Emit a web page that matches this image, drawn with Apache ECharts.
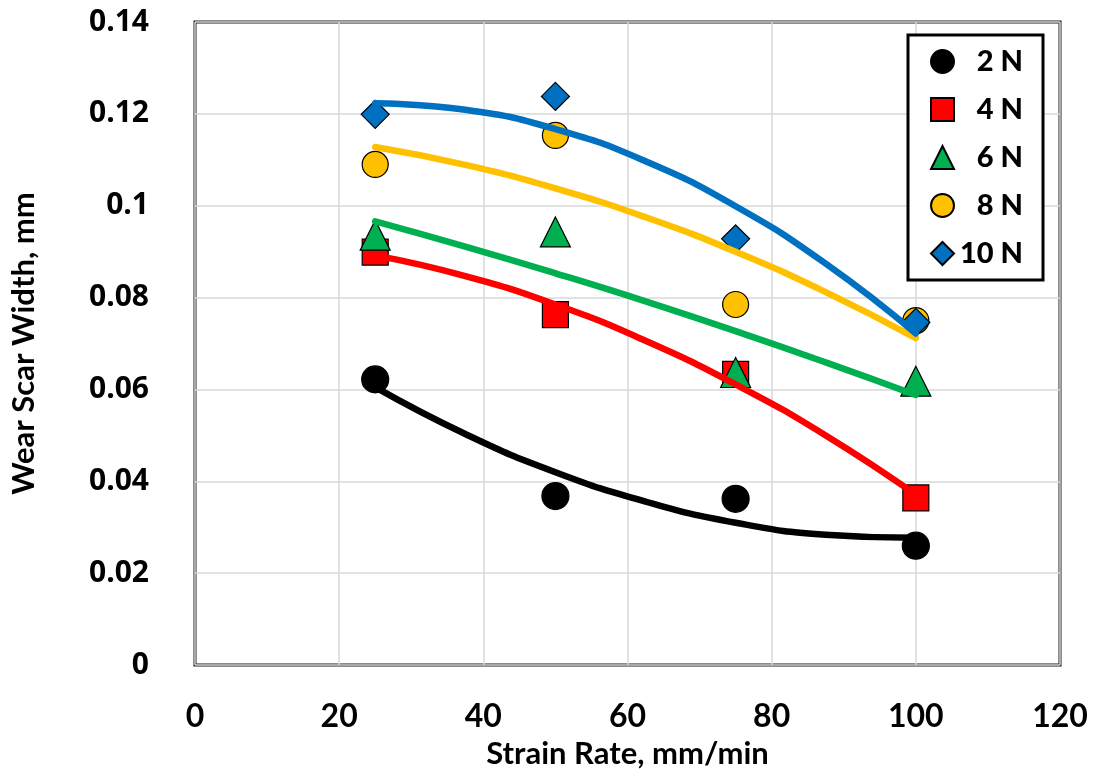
<!DOCTYPE html>
<html>
<head>
<meta charset="utf-8">
<script src="https://cdn.jsdelivr.net/npm/echarts@6/dist/echarts.min.js"></script>
<style>html,body{margin:0;padding:0;background:#fff}#c{width:1101px;height:774px}</style>
</head>
<body>
<div id="c"></div>
<script>
// Data
const strainRate = [25, 50, 75, 100];
const load2N  = [0.0622, 0.0368, 0.0362, 0.0260];
const load4N  = [0.0899, 0.0763, 0.0633, 0.0364];
const load6N  = [0.0936, 0.0943, 0.0637, 0.0618];
const load8N  = [0.1090, 0.1153, 0.0785, 0.0750];
const load10N = [0.1199, 0.1238, 0.0928, 0.0746];

// Polynomial (order 2) trendlines
const trendX = [25, 37.5, 50, 62.5, 75, 87.5, 100];
const trend2N  = [0.0605, 0.0503, 0.0420, 0.0356, 0.0310, 0.0284, 0.0277];
const trend4N  = [0.0892, 0.0847, 0.0785, 0.0706, 0.0611, 0.0500, 0.0371];
const trend6N  = [0.0966, 0.0911, 0.0853, 0.0792, 0.0727, 0.0659, 0.0588];
const trend8N  = [0.1128, 0.1089, 0.1038, 0.0975, 0.0900, 0.0812, 0.0712];
const trend10N = [0.1223, 0.1209, 0.1167, 0.1097, 0.0999, 0.0874, 0.0722];

const xTicks = [0, 20, 40, 60, 80, 100, 120];
const yTicks = [0, 0.02, 0.04, 0.06, 0.08, 0.1, 0.12, 0.14];

const names = ['2 N', '4 N', '6 N', '8 N', '10 N'];
const pts = [load2N, load4N, load6N, load8N, load10N];
const trends = [trend2N, trend4N, trend6N, trend8N, trend10N];
const colors = ['#000000', '#ff0000', '#00b050', '#ffc000', '#0070c0'];
const symbols = ['circle', 'rect', 'triangle', 'circle', 'diamond'];
const sizes = [27, 26, 30, 26, 28];

const series = [];
pts.forEach((arr, i) => {
  series.push({
    name: names[i], type: 'scatter', z: 2,
    symbol: symbols[i], symbolSize: sizes[i],
    itemStyle: { color: colors[i], borderColor: '#000', borderWidth: 1.2, opacity: 1 },
    data: strainRate.map((x, j) => [x, arr[j]])
  });
});
trends.forEach((arr, i) => {
  series.push({
    name: names[i] + ' trend', type: 'line', z: 3, smooth: true,
    showSymbol: false, symbol: 'none', silent: true,
    lineStyle: { color: colors[i], width: 6.5, cap: 'round' },
    data: trendX.map((x, j) => [x, arr[j]])
  });
});

const titleFont = { fontFamily: 'Lato', fontWeight: 'bold', fontSize: 31, color: '#000' };

const chart = echarts.init(document.getElementById('c'), null, { renderer: 'canvas' });
chart.setOption({
  animation: false,
  backgroundColor: '#fff',
  grid: { left: 189, right: 41, top: 22, bottom: 106, show: true, borderColor: '#1a1a1a', borderWidth: 3, backgroundColor: 'transparent' },
  legend: {
    data: names, orient: 'vertical', left: 908, top: 35,
    backgroundColor: '#fff', borderColor: '#000', borderWidth: 3,
    padding: [12, 20, 12, 22], itemGap: 19, itemWidth: 23, itemHeight: 23,
    formatter: '{a|{name}}',
    textStyle: { color: '#000', rich: { a: { fontFamily: 'Lato', fontWeight: 900, fontSize: 29, color: '#000', width: 64, align: 'right' } } }
  },
  xAxis: {
    type: 'value', min: 0, max: 120, interval: 20,
    name: 'Strain Rate, mm/min', nameLocation: 'middle', nameGap: 70,
    nameTextStyle: titleFont,
    axisLine: { show: false }, axisTick: { show: false },
    axisLabel: { margin: 36, fontFamily: 'Lato', fontWeight: 'bold', fontSize: 32, color: '#000',
      formatter: v => xTicks.includes(v) ? String(v) : '' },
    splitLine: { show: true, lineStyle: { color: '#d9d9d9', width: 1.5 } }
  },
  yAxis: {
    type: 'value', min: 0, max: 0.14, interval: 0.02,
    name: 'Wear Scar Width, mm', nameLocation: 'middle', nameGap: 156, nameRotate: 90,
    nameTextStyle: titleFont,
    axisLine: { show: false }, axisTick: { show: false },
    axisLabel: { margin: 46, fontFamily: 'Open Sans', fontWeight: 'bold', fontSize: 30, color: '#000',
      formatter: v => { const t = yTicks.find(k => Math.abs(k - v) < 1e-9); return t === undefined ? '' : String(+t.toFixed(2)); } },
    splitLine: { show: true, lineStyle: { color: '#d9d9d9', width: 1.5 } }
  },
  series: series
});
</script>
</body>
</html>
